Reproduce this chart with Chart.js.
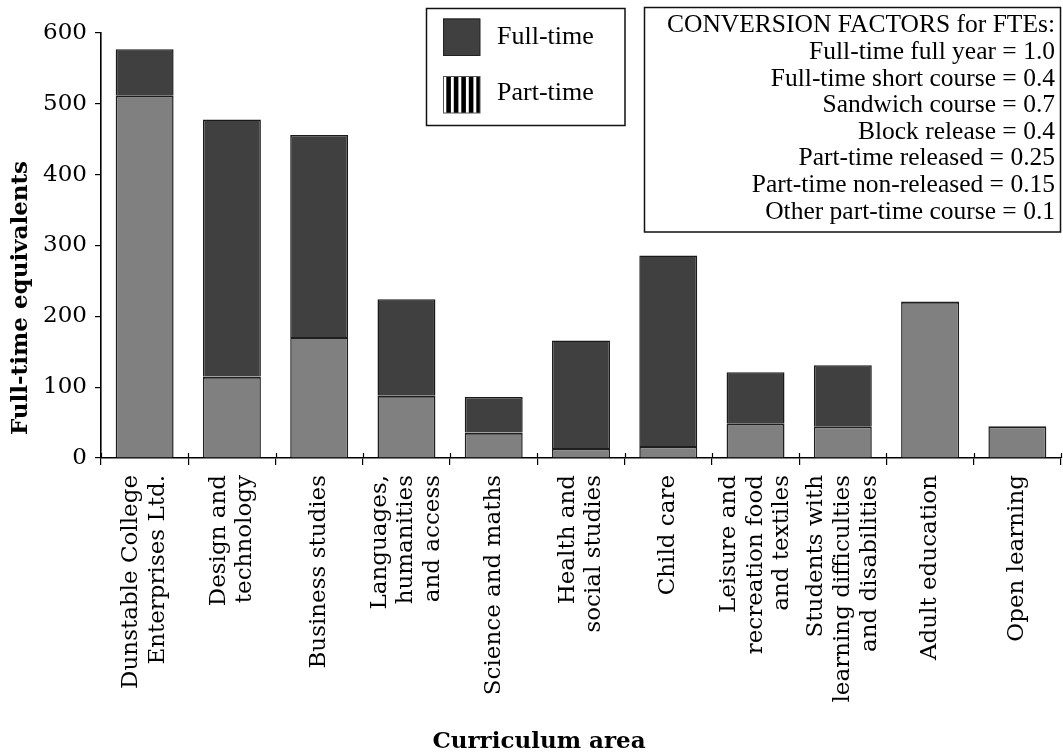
<!DOCTYPE html>
<html>
<head>
<meta charset="utf-8">
<script src="https://cdn.jsdelivr.net/npm/chart.js@4/dist/chart.umd.min.js"></script>
<style>
  html, body { margin: 0; padding: 0; background: #ffffff; }
  #wrap { position: relative; width: 1063px; height: 755px; }
</style>
</head>
<body>
<div id="wrap"><canvas id="fteChart"></canvas></div>
<script>
// Curriculum areas (multi-line labels are split into arrays)
const categories = [
  ['Dunstable College', 'Enterprises Ltd.'],
  ['Design and', 'technology'],
  'Business studies',
  ['Languages,', 'humanities', 'and access'],
  'Science and maths',
  ['Health and', 'social studies'],
  'Child care',
  ['Leisure and', 'recreation food', 'and textiles'],
  ['Students with', 'learning difficulties', 'and disabilities'],
  'Adult education',
  'Open learning'
];

// Full-time equivalents per area (lower and upper segment of each stack)
const partTime = [512, 115, 171, 88, 36, 14, 17, 49, 45, 221, 45];
const fullTime = [65, 363, 285, 136, 50, 152, 269, 72, 86, null, null];

const yTicks = [0, 100, 200, 300, 400, 500, 600];

const conversionFactors = [
  'CONVERSION FACTORS for FTEs:',
  'Full-time full year = 1.0',
  'Full-time short course = 0.4',
  'Sandwich course = 0.7',
  'Block release = 0.4',
  'Part-time released = 0.25',
  'Part-time non-released = 0.15',
  'Other part-time course = 0.1'
];

const xTitle = 'Curriculum area';
const yTitle = 'Full-time equivalents';

const SERIF = "'DejaVu Serif', serif";
const TEXT_SERIF = "'Liberation Serif', 'Times New Roman', serif";

// Draws category labels, axis titles, the legend box and the conversion-factor box
const decorations = {
  id: 'decorations',
  afterDraw(chart) {
    const ctx = chart.ctx;
    const xs = chart.scales.x;
    const ys = chart.scales.y;
    ctx.save();
    ctx.fillStyle = '#000';
    ctx.strokeStyle = '#000';

    // inner part of the category-boundary ticks on the x axis
    ctx.lineWidth = 1.2;
    const axisY = ys.getPixelForValue(0);
    for (let k = 0; k <= categories.length; k++) {
      const px = Math.round(xs.getPixelForValue(k - 0.5)) + 0.5;
      ctx.beginPath();
      ctx.moveTo(px, axisY - 5);
      ctx.lineTo(px, axisY);
      ctx.stroke();
    }

    // rotated category labels, centred on each category
    const lh = 26.7;
    ctx.font = '23px ' + SERIF;
    ctx.textAlign = 'right';
    ctx.textBaseline = 'alphabetic';
    categories.forEach((cat, i) => {
      const lines = Array.isArray(cat) ? cat : [cat];
      const cx = xs.getPixelForTick(i);
      ctx.save();
      ctx.translate(0, axisY + 17);
      ctx.rotate(-Math.PI / 2);
      lines.forEach((line, j) => {
        const off = (j - (lines.length - 1) / 2) * lh + 6;
        ctx.fillText(line, 0, cx + off);
      });
      ctx.restore();
    });

    // axis titles
    ctx.font = 'bold 23px ' + SERIF;
    ctx.textAlign = 'center';
    ctx.textBaseline = 'alphabetic';
    ctx.fillText(xTitle, 539, 748);
    ctx.save();
    ctx.translate(27, 298);
    ctx.rotate(-Math.PI / 2);
    ctx.fillText(yTitle, 0, 0);
    ctx.restore();

    // legend box
    ctx.lineWidth = 1.5;
    ctx.strokeStyle = '#111';
    ctx.strokeRect(426.5, 8.5, 198.5, 117);
    const ds = chart.data.datasets;
    // dark swatch
    ctx.fillStyle = ds[1].backgroundColor;
    ctx.fillRect(443, 18.5, 37, 37);
    ctx.lineWidth = 1;
    ctx.strokeStyle = '#222';
    ctx.strokeRect(443.5, 19, 36.5, 36.5);
    // striped swatch
    ctx.fillStyle = '#fff';
    ctx.fillRect(443, 76, 37, 37);
    ctx.save();
    ctx.beginPath();
    ctx.rect(443, 76, 37, 37);
    ctx.clip();
    ctx.fillStyle = '#000';
    for (let s = 0; s < 5; s++) {
      ctx.fillRect(446.3 + s * 7.5, 76, 4.6, 37);
    }
    ctx.restore();
    ctx.strokeStyle = '#555';
    ctx.strokeRect(443.5, 76.5, 36.5, 36.5);

    ctx.fillStyle = '#000';
    ctx.font = '26px ' + TEXT_SERIF;
    ctx.textAlign = 'left';
    ctx.fillText(ds[1].label, 497, 43.5);
    ctx.fillText(ds[0].label, 497, 100);

    // conversion-factor box
    ctx.lineWidth = 1.5;
    ctx.strokeStyle = '#111';
    ctx.strokeRect(644.5, 7.5, 416, 224.5);
    ctx.font = '25.5px ' + TEXT_SERIF;
    ctx.textAlign = 'right';
    conversionFactors.forEach((line, i) => {
      ctx.fillText(line, 1055, 32.3 + i * 26.6);
    });

    ctx.restore();
  }
};

new Chart(document.getElementById('fteChart'), {
  type: 'bar',
  data: {
    labels: categories,
    datasets: [
      {
        label: 'Part-time',
        data: partTime,
        backgroundColor: '#808080',
        borderColor: '#1e1e1e',
        borderWidth: { top: 2.2, left: 1.5, right: 1.5, bottom: 0 },
        borderSkipped: 'start',
        barPercentage: 0.664,
        categoryPercentage: 1.0
      },
      {
        label: 'Full-time',
        data: fullTime,
        backgroundColor: '#404040',
        borderColor: '#1a1a1a',
        borderWidth: 1.5,
        borderSkipped: 'start',
        barPercentage: 0.664,
        categoryPercentage: 1.0
      }
    ]
  },
  options: {
    responsive: true,
    maintainAspectRatio: false,
    animation: false,
    devicePixelRatio: 1,
    layout: { padding: { left: 0, top: 33, right: 2, bottom: 0 } },
    plugins: {
      legend: { display: false },
      tooltip: { enabled: false },
      title: { display: false }
    },
    scales: {
      x: {
        stacked: true,
        grid: {
          offset: true,
          drawOnChartArea: false,
          drawTicks: true,
          tickLength: 7,
          color: '#000',
          lineWidth: 1.2
        },
        border: { color: '#000', width: 1.6 },
        ticks: { display: false },
        afterFit(scale) { scale.height = 297; }
      },
      y: {
        stacked: true,
        min: 0,
        max: 600,
        afterBuildTicks(scale) {
          scale.ticks = yTicks.map(v => ({ value: v }));
        },
        grid: {
          drawOnChartArea: false,
          drawTicks: true,
          tickLength: 6,
          color: '#000',
          lineWidth: 1.2
        },
        border: { color: '#000', width: 1.6 },
        ticks: {
          color: '#000',
          padding: 8,
          font: { family: SERIF, size: 23 }
        },
        afterFit(scale) { scale.width = 101; }
      }
    }
  },
  plugins: [decorations]
});
</script>
</body>
</html>
